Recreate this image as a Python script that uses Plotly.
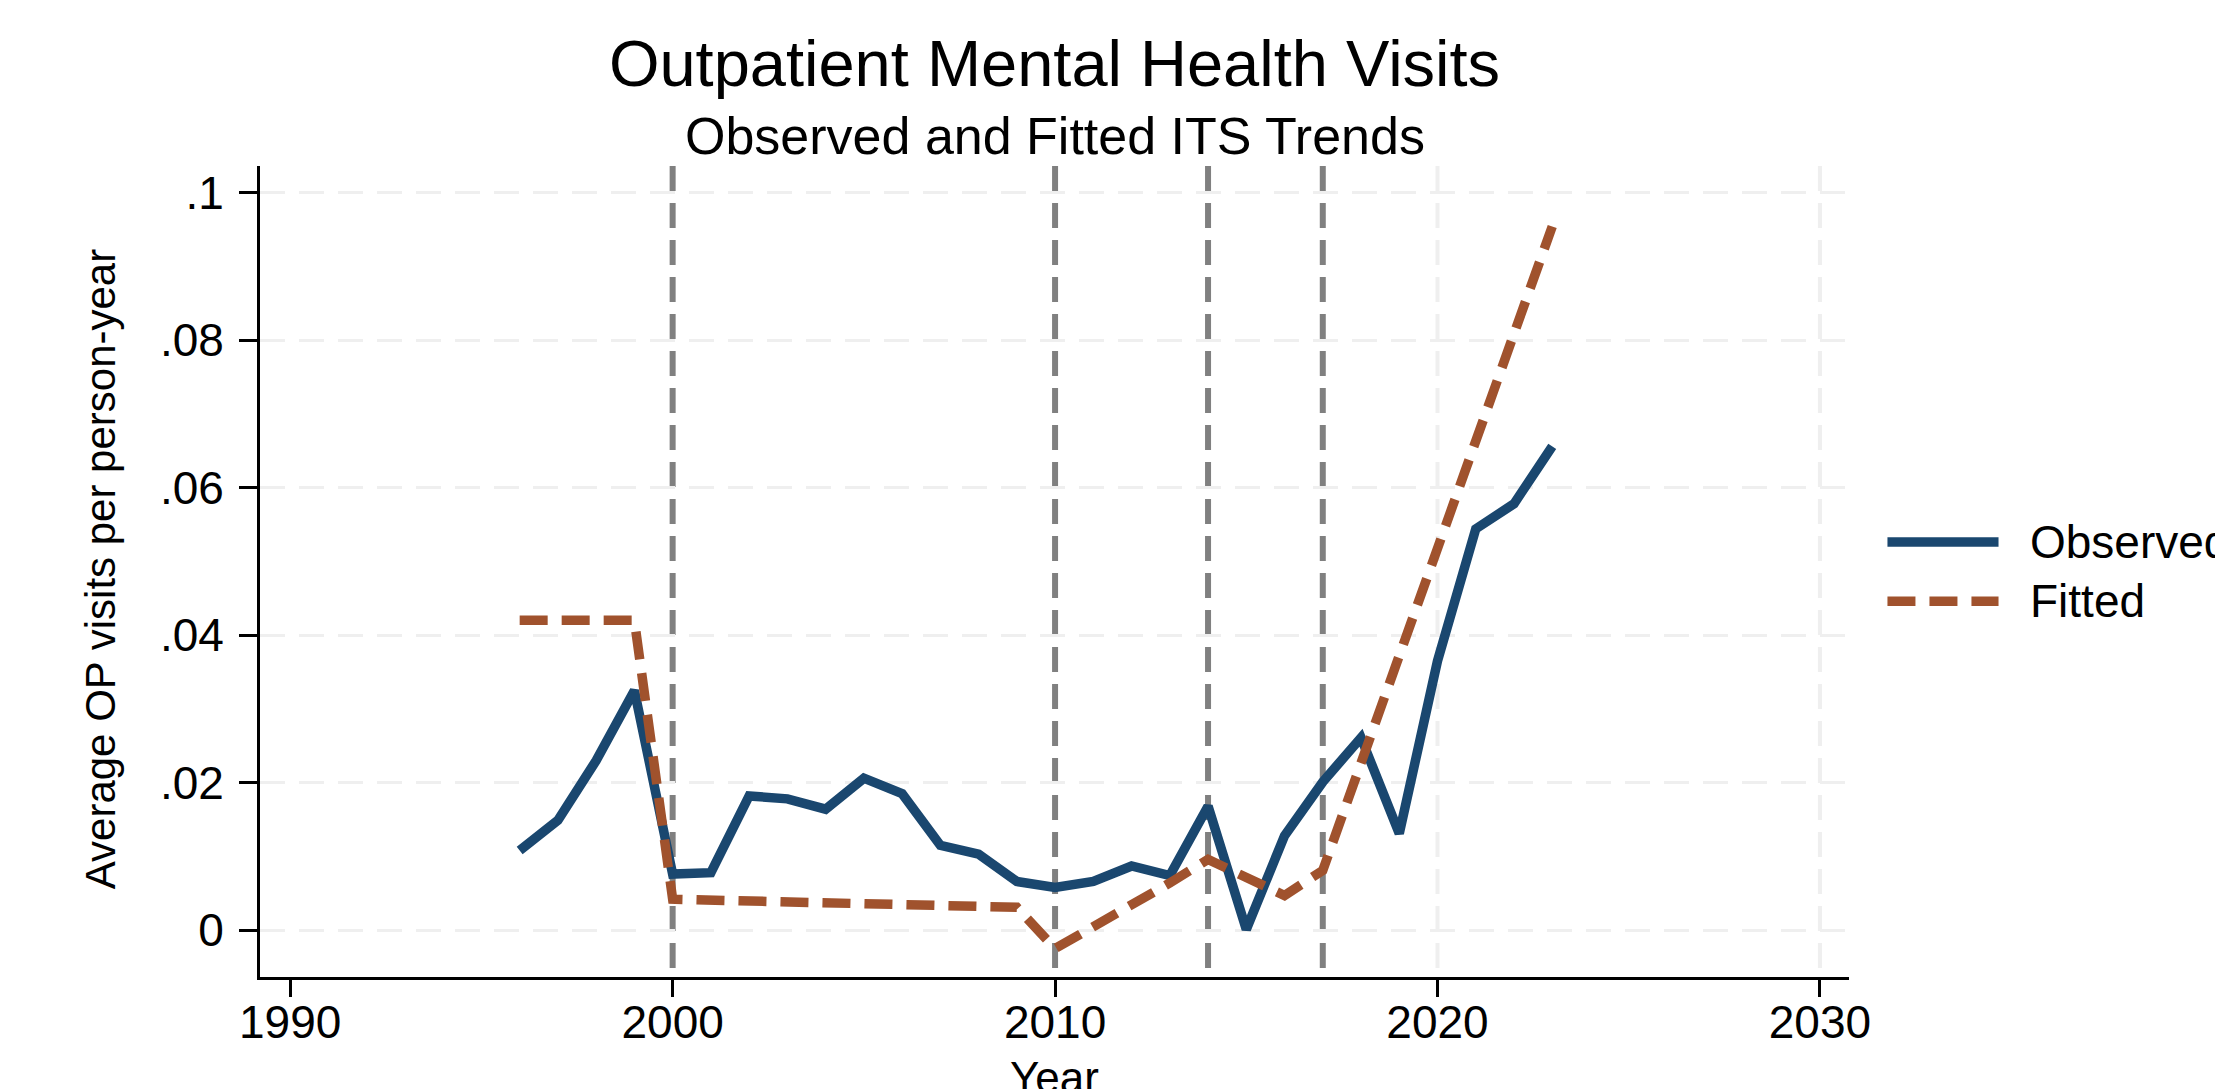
import plotly.graph_objects as go

# ---------------- data ----------------
years = [1996, 1997, 1998, 1999, 2000, 2001, 2002, 2003, 2004, 2005, 2006, 2007, 2008, 2009,
         2010, 2011, 2012, 2013, 2014, 2015, 2016, 2017, 2018, 2019, 2020, 2021, 2022, 2023]

observed = [0.0108, 0.0149, 0.0230, 0.0325, 0.0076, 0.0078, 0.0182, 0.0178, 0.0164, 0.0206,
            0.0185, 0.0115, 0.0103, 0.0066, 0.0058, 0.0066, 0.0087, 0.0074, 0.0168, 0.0001,
            0.0128, 0.0201, 0.0261, 0.0131, 0.0365, 0.0544, 0.0578, 0.0656]

fitted = [0.0420, 0.0420, 0.0420, 0.0420, 0.0042, 0.0041, 0.0040, 0.0038, 0.0037, 0.0036,
          0.0035, 0.0034, 0.0032, 0.0031, -0.0025, 0.0004, 0.0033, 0.0064, 0.0096, 0.0073,
          0.0047, 0.0081, 0.0225, 0.0372, 0.0518, 0.0663, 0.0808, 0.0954]

interruptions = [2000, 2010, 2014, 2017]
x_ticks = [1990, 2000, 2010, 2020, 2030]
x_grid = [2000, 2010, 2020, 2030]
y_ticks = [0, 0.02, 0.04, 0.06, 0.08, 0.1]
y_ticktext = ["0", ".02", ".04", ".06", ".08", ".1"]

series_names = ["Observed", "Fitted"]
title_text = "Outpatient Mental Health Visits"
subtitle_text = "Observed and Fitted ITS Trends"
x_title = "Year"
y_title = "Average OP visits per person-year"

# ---------------- style ----------------
NAVY = "#1a476f"
SIENNA = "#a0522d"
GRAY = "#808080"
GRID = "#efefef"
FONT = "Liberation Sans, Arial, Helvetica, sans-serif"
FIT_DASH = "28px,14px"
REF_DASH = "25px,12px"

fig = go.Figure()
fig.add_trace(go.Scatter(x=years, y=observed, mode="lines", name=series_names[0],
                         line=dict(color=NAVY, width=9.5), showlegend=False))
fig.add_trace(go.Scatter(x=years, y=fitted, mode="lines", name=series_names[1],
                         line=dict(color=SIENNA, width=9.5, dash=FIT_DASH), showlegend=False))

shapes = []
for gx in x_grid:
    shapes.append(dict(type="line", xref="x", yref="paper", x0=gx, x1=gx, y0=1, y1=0,
                       line=dict(color=GRID, width=4, dash=REF_DASH), layer="below"))
for ix in interruptions:
    shapes.append(dict(type="line", xref="x", yref="paper", x0=ix, x1=ix, y0=1, y1=0,
                       line=dict(color=GRAY, width=6, dash=REF_DASH), layer="between"))

# manual legend (long line samples like the original)
leg_x0, leg_x1, leg_tx = 1.0242, 1.0941, 1.1125
leg_y = [0.5363, 0.4632]
shapes.append(dict(type="line", xref="paper", yref="paper", x0=leg_x0, x1=leg_x1,
                   y0=leg_y[0], y1=leg_y[0], line=dict(color=NAVY, width=9.5)))
shapes.append(dict(type="line", xref="paper", yref="paper", x0=leg_x0, x1=leg_x1,
                   y0=leg_y[1], y1=leg_y[1], line=dict(color=SIENNA, width=9.5, dash=FIT_DASH)))

annotations = [
    dict(text=subtitle_text, xref="paper", yref="paper", x=0.5, y=1.0365,
         xanchor="center", yanchor="middle", showarrow=False,
         font=dict(size=52, color="black", family=FONT)),
    dict(text=y_title, xref="paper", yref="paper", x=-0.1004, y=0.5034, textangle=-90,
         xanchor="center", yanchor="middle", showarrow=False,
         font=dict(size=42, color="black", family=FONT)),
    dict(text=x_title, xref="paper", yref="paper", x=0.5, y=-0.1245,
         xanchor="center", yanchor="middle", showarrow=False,
         font=dict(size=44, color="black", family=FONT)),
]
for name, ly in zip(series_names, leg_y):
    annotations.append(dict(text=name, xref="paper", yref="paper", x=leg_tx, y=ly,
                            xanchor="left", yanchor="middle", showarrow=False,
                            font=dict(size=46, color="black", family=FONT)))

fig.update_layout(
    width=2215, height=1089,
    margin=dict(l=259.6, r=366.2, t=165.6, b=111.7, pad=0),
    paper_bgcolor="white", plot_bgcolor="white",
    font=dict(family=FONT, color="black"),
    title=dict(text=title_text, x=0.5, xref="paper", xanchor="center",
               y=1 - 63 / 1089, yref="container", yanchor="middle",
               font=dict(size=65, color="black", family=FONT)),
    xaxis=dict(range=[1989.21, 2030.76], tickmode="array", tickvals=x_ticks,
               ticks="outside", ticklen=17, tickwidth=2.7, tickcolor="black",
               showline=True, linecolor="black", linewidth=2.7,
               showgrid=False, zeroline=False, ticklabelstandoff=-14,
               tickfont=dict(size=46, color="black", family=FONT)),
    yaxis=dict(range=[-0.00635, 0.1036], tickmode="array", tickvals=y_ticks,
               ticktext=y_ticktext, ticks="outside", ticklen=18, tickwidth=2.7,
               tickcolor="black", showline=True, linecolor="black", linewidth=2.7,
               showgrid=True, gridcolor=GRID, gridwidth=3.3, griddash="25px,14px",
               zeroline=False, ticklabelstandoff=6,
               tickfont=dict(size=46, color="black", family=FONT)),
    shapes=shapes,
    annotations=annotations,
)

fig.write_html("out.html", config={"displayModeBar": False},
               post_script="document.body.style.margin='0';document.body.style.overflow='hidden';")
